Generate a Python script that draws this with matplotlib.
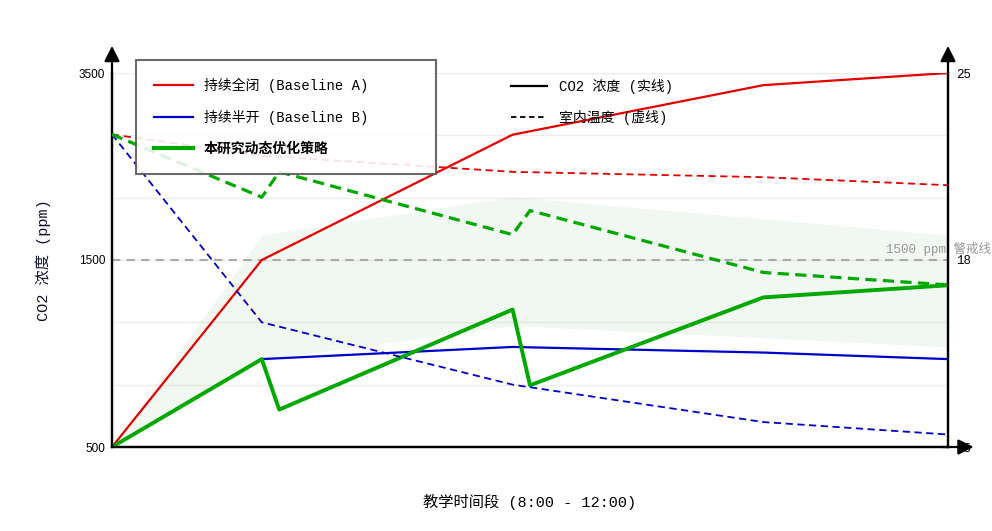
import numpy as np
import matplotlib
matplotlib.use("Agg")
import matplotlib.pyplot as plt
from matplotlib.lines import Line2D

plt.rcParams['font.family'] = ['Liberation Mono', 'Noto Sans CJK SC']

# time in minutes after 8:00
t = [0, 43, 115, 187, 240]
t_opt = [0, 43, 48, 115, 120, 187, 240]

# CO2 (ppm)
co2_closed = [500, 1500, 2840, 3370, 3500]
co2_half = [500, 970, 1035, 1005, 970]
co2_opt = [500, 970, 700, 1235, 830, 1300, 1365]

# indoor temperature (degC)
temp_closed = [22.7, 21.9, 21.3, 21.1, 20.8]
temp_half = [22.7, 17.0, 16.0, 15.4, 15.2]
temp_opt = [22.7, 20.35, 21.3, 18.95, 19.85, 17.8, 17.6]

# comfort band (ppm)
t_band = [0, 43, 115, 240]
band_lo = [500, 965, 1150, 1035]
band_hi = [500, 1767, 2175, 1767]

co2_ticks = [500, 1500, 3500]
temp_ticks = [15, 18, 25]
warn_level = 1500


def co2_fwd(v):
    v = np.asarray(v, dtype=float)
    return np.where(v <= 1500, (v - 500) / 2000, 0.5 + (v - 1500) / 4000)


def co2_inv(f):
    f = np.asarray(f, dtype=float)
    return np.where(f <= 0.5, 500 + f * 2000, 1500 + (f - 0.5) * 4000)


def temp_fwd(v):
    v = np.asarray(v, dtype=float)
    return np.where(v <= 18, (v - 15) / 6, 0.5 + (v - 18) / 14)


def temp_inv(f):
    f = np.asarray(f, dtype=float)
    return np.where(f <= 0.5, 15 + f * 6, 18 + (f - 0.5) * 14)


RED = '#e40000'
BLUE = '#0000cc'
GREEN = '#00a800'

fig = plt.figure(figsize=(9.92, 5.31), dpi=100)
ax = fig.add_axes([112 / 992, 84 / 531, 836 / 992, 374 / 531])
ax.set_yscale('function', functions=(co2_fwd, co2_inv))
ax.set_xlim(0, 240)
ax.set_ylim(500, 3500)

# light horizontal grid
for g in co2_inv(np.linspace(0, 1, 7)):
    ax.axhline(g, color='#ececec', lw=1, zorder=0)

ax.fill_between(t_band, band_lo, band_hi, color='#4caf50', alpha=0.08, lw=0, zorder=1)
ax.axhline(warn_level, color='#aaaaaa', lw=1.5, ls=(0, (4, 3)), zorder=2)

ax.plot(t, co2_closed, color=RED, lw=1.6, zorder=3)
ax.plot(t, co2_half, color=BLUE, lw=1.6, zorder=3)
ax.plot(t_opt, co2_opt, color=GREEN, lw=2.8, zorder=4)

ax.set_yticks(co2_ticks)
ax.set_xticks([])
ax.tick_params(axis='y', length=0, pad=5)
for lb in ax.get_yticklabels():
    lb.set_family('Liberation Sans')
    lb.set_fontsize(8.5)

ax.set_ylabel('CO2 浓度 (ppm)', fontsize=11, labelpad=20, color='#111133')
ax.set_xlabel('教学时间段 (8:00 - 12:00)', fontsize=11, labelpad=34)

ax2 = ax.twinx()
ax2.set_yscale('function', functions=(temp_fwd, temp_inv))
ax2.set_ylim(15, 25)
ax2.plot(t, temp_closed, color=RED, lw=1.3, ls=(0, (4, 2.5)), zorder=3)
ax2.plot(t, temp_half, color=BLUE, lw=1.3, ls=(0, (4, 2.5)), zorder=3)
ax2.plot(t_opt, temp_opt, color=GREEN, lw=2.3, ls=(0, (3.5, 2)), zorder=4)
ax2.set_yticks(temp_ticks)
ax2.tick_params(axis='y', length=0, pad=6, labelsize=9)

for a in (ax, ax2):
    a.spines['top'].set_visible(False)
    for s in ('left', 'right', 'bottom'):
        a.spines[s].set_linewidth(1.6)
        a.spines[s].set_color('black')

# axis arrows
arrow = dict(arrowstyle='-|>', color='black', lw=1.6, mutation_scale=23)
ax2.annotate('', xy=(0, 1.08), xytext=(0, 0.99), xycoords='axes fraction', arrowprops=arrow, annotation_clip=False)
ax2.annotate('', xy=(1, 1.08), xytext=(1, 0.99), xycoords='axes fraction', arrowprops=arrow, annotation_clip=False)
ax2.annotate('', xy=(1.034, 0), xytext=(0.99, 0), xycoords='axes fraction', arrowprops=arrow, annotation_clip=False)

ax.annotate('1500 ppm 警戒线', xy=(0.926, warn_level), xycoords=('axes fraction', 'data'),
            xytext=(0, 8), textcoords='offset points', va='center', ha='left',
            fontsize=9, color='#999999', annotation_clip=False)

# legends
h1 = [Line2D([], [], color=RED, lw=1.6), Line2D([], [], color=BLUE, lw=1.6), Line2D([], [], color=GREEN, lw=3)]
l1 = ['持续全闭 (Baseline A)', '持续半开 (Baseline B)', '本研究动态优化策略']
leg1 = ax2.legend(h1, l1, loc='upper left', bbox_to_anchor=(0.0287, 1.035, 0.359, 0), mode='expand',
                  fontsize=10, handlelength=2.8, handletextpad=0.8, labelspacing=1.22, borderpad=1.3,
                  borderaxespad=0, fancybox=False, framealpha=0.88, edgecolor='#555555')
leg1.get_frame().set_linewidth(1.5)
leg1.get_texts()[2].set_fontweight('bold')
ax2.add_artist(leg1)

h2 = [Line2D([], [], color='black', lw=1.6), Line2D([], [], color='black', lw=1.3, ls=(0, (3, 2)))]
l2 = ['CO2 浓度 (实线)', '室内温度 (虚线)']
ax2.legend(h2, l2, loc='upper left', bbox_to_anchor=(0.471, 1.0), frameon=False,
           fontsize=10, handlelength=2.6, handletextpad=0.85, labelspacing=1.2, borderaxespad=0)

fig.savefig('out.png', dpi=100)
